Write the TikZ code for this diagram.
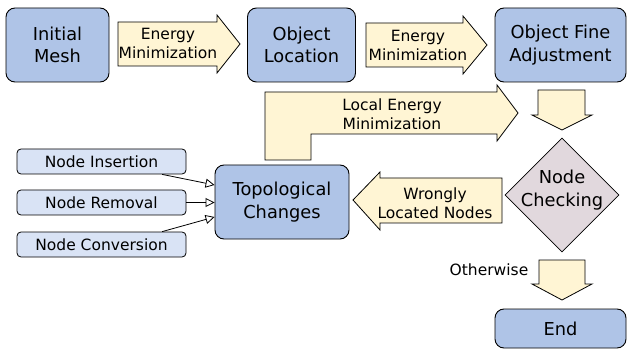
\documentclass[tikz,border=0pt]{standalone}
\usepackage{fontspec}
\setmainfont{DejaVu Sans}
\usetikzlibrary{shapes.geometric,arrows.meta}
\definecolor{boxblue}{HTML}{AFC4E7}
\definecolor{lightblue}{HTML}{D9E3F5}
\definecolor{cream}{HTML}{FFF5D4}
\definecolor{diam}{HTML}{E1D8DD}
\tikzset{
  bigbox/.style={draw=black, fill=boxblue, rounded corners=9pt, line width=0.9pt, align=center, inner sep=0pt,
    font=\fontsize{17.8}{22.5}\selectfont},
  smallbox/.style={draw=black, fill=lightblue, rounded corners=4pt, line width=0.8pt, inner sep=0pt,
    minimum width=169pt, minimum height=25pt, font=\fontsize{15.5}{19}\selectfont},
  blockarrow/.style={draw=black, fill=cream, line width=0.8pt, line join=miter},
  arrowtext/.style={align=center, inner sep=0pt, font=\fontsize{15.5}{19}\selectfont},
  feed/.style={draw=black, line width=0.8pt, -{Triangle[open,length=9pt,width=9pt]}},
}
\begin{document}
\begin{tikzpicture}[x=1pt,y=-1pt]
\useasboundingbox (0,0) rectangle (627,350);
% main boxes
\node[bigbox, minimum width=103pt, minimum height=74pt] (init) at (57.5,45) {Initial\\Mesh};
\node[bigbox, minimum width=108pt, minimum height=74pt] (loc) at (301.5,45) {Object\\Location};
\node[bigbox, minimum width=131pt, minimum height=74pt] (fine) at (560.5,45) {Object Fine\\Adjustment};
\node[bigbox, minimum width=134pt, minimum height=74pt] (topo) at (282,202) {Topological\\Changes};
\node[bigbox, minimum width=131pt, minimum height=39pt] (end) at (560.5,328.5) {End};
\node[draw=black, fill=diam, diamond, line width=0.8pt, minimum width=114pt, minimum height=114pt, inner sep=0pt,
  align=center] (check) at (562,195) {};
\node[align=center, inner sep=0pt, font=\fontsize{17.8}{22.5}\selectfont] (checkt) at (562,190) {Node\\Checking};
% small boxes
\node[smallbox] (ins) at (101.5,161.5) {Node Insertion};
\node[smallbox] (rem) at (101.5,202.5) {Node Removal};
\node[smallbox] (conv) at (101.5,244.5) {Node Conversion};
% feed arrows
\draw[feed] (ins.-12) -- ([yshift=17pt]topo.west);
\draw[feed] (rem.east) -- (rem.east -| topo.west);
\draw[feed] (conv.12) -- ([yshift=-15pt]topo.west);
% block arrow 1
\draw[blockarrow] (118,22) -- (217,22) -- (217,15) -- (240,44) -- (217,73) -- (217,66) -- (118,66) -- cycle;
\node[arrowtext] (a1) at (168,43.5) {Energy\\Minimization};
% block arrow 2
\draw[blockarrow] (366,23) -- (463,23) -- (463,16) -- (487,45) -- (463,74) -- (463,67) -- (366,67) -- cycle;
\node[arrowtext] (a2) at (418,45) {Energy\\Minimization};
% down arrow under fine
\draw[blockarrow] (538,90) -- (585,90) -- (585,115) -- (592,115) -- (562,130) -- (532,115) -- (538,115) -- cycle;
% local energy minimization L arrow
\draw[blockarrow] (265,92) -- (497,92) -- (497,85) -- (518,113) -- (497,141) -- (497,134) -- (311,134) -- (311,160) -- (265,160) -- cycle;
\node[arrowtext] (a3) at (392,114) {Local Energy\\Minimization};
% wrongly located nodes arrow
\draw[blockarrow] (502,178) -- (380,178) -- (380,172) -- (353,200) -- (380,230) -- (380,223) -- (502,223) -- cycle;
\node[arrowtext] (a4) at (435,203) {Wrongly\\Located Nodes};
% otherwise arrow
\draw[blockarrow] (539,260) -- (585,260) -- (585,284) -- (592,284) -- (562,300) -- (532,284) -- (539,284) -- cycle;
\node[arrowtext] (oth) at (489,270) {Otherwise};
\end{tikzpicture}
\end{document}
